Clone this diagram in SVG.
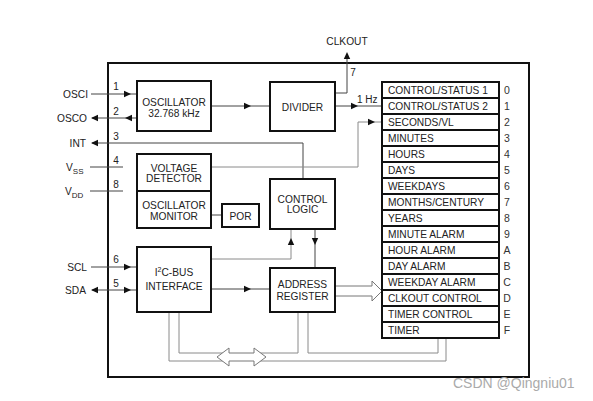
<svg xmlns="http://www.w3.org/2000/svg" width="593" height="401" viewBox="0 0 593 401">
<style>
text{font-family:"Liberation Sans",Arial,sans-serif;font-size:10.2px;fill:#222}
.c{text-anchor:middle}
.e{text-anchor:end}
.box{fill:#fff;stroke:#111;stroke-width:2}
.w{fill:none;stroke:#444;stroke-width:1}
.g{fill:none;stroke:#8a8a8a;stroke-width:1}
.hol{fill:#fff;stroke:#777;stroke-width:1}
.pin{font-size:10px}
.idx{font-size:10.5px;text-anchor:middle;fill:#333}
</style>
<defs>
<path id="ah" d="M0,0 L-7,-3.2 L-7,3.2 Z" fill="#111"/>
</defs>
<rect width="593" height="401" fill="#fff"/>
<rect id="frame" x="108" y="63" width="421" height="314" fill="none" stroke="#111" stroke-width="2"/>

<g id="connectors">
<path class="w" d="M91,94 H137"/>
<use href="#ah" transform="translate(131,94)"/>
<path class="w" d="M137,118 H92"/>
<use href="#ah" transform="translate(91,118) rotate(180)"/>
<use href="#ah" transform="translate(125,118) rotate(180)"/>
<path class="w" d="M303,179 V143 H92"/>
<use href="#ah" transform="translate(91,143) rotate(180)"/>
<path class="w" d="M90,167 H123"/>
<path class="w" d="M90,191 H123"/>
<path class="w" d="M211,106 H270"/>
<use href="#ah" transform="translate(251,106)"/>
<path class="w" d="M335,106 H382"/>
<use href="#ah" transform="translate(358,106)"/>
<path class="w" d="M335,93 H347 V54"/>
<use href="#ah" transform="translate(347,52) rotate(-90)"/>
<path class="g" d="M211,167 H358 V122 H382"/>
<use href="#ah" transform="translate(375,122)"/>
<path class="w" d="M211,215 H222"/>
<path class="g" d="M211,259 H291 V229"/>
<use href="#ah" transform="translate(291,238) rotate(-90)"/>
<path class="w" d="M315,229 V268"/>
<use href="#ah" transform="translate(315,245) rotate(90)"/>
<path class="w" d="M91,267 H137"/>
<use href="#ah" transform="translate(131,267)"/>
<path class="w" d="M92,290 H137"/>
<use href="#ah" transform="translate(91,290) rotate(180)"/>
<use href="#ah" transform="translate(131,290)"/>
<path class="w" d="M211,289 H270"/>
<use href="#ah" transform="translate(251,289)"/>
<path class="hol" d="M335,286 H372 V281 L382,291 L372,301 V296 H335"/>
<path class="g" d="M169,312 V361 H229"/>
<path class="g" d="M179,312 V353 H229"/>
<path class="g" d="M254,353 H298 V312"/>
<path class="g" d="M308,312 V353 H438 V338"/>
<path class="g" d="M254,361 H446 V338"/>
<path class="hol" d="M217,357 L229,348 V353 H254 V348 L266,357 L254,366 V361 H229 V366 Z"/>
</g>

<g id="pins">
<text class="e" x="88" y="97.5">OSCI</text>
<text class="e" x="87" y="121.5">OSCO</text>
<text class="e" x="86" y="146.5">INT</text>
<text x="66" y="171">V<tspan font-size="8" dy="2.5">SS</tspan></text>
<text x="65" y="195">V<tspan font-size="8" dy="2.5">DD</tspan></text>
<text class="e" x="87" y="270.5">SCL</text>
<text class="e" x="86" y="294">SDA</text>
<text class="pin c" x="116" y="90">1</text>
<text class="pin c" x="116" y="115">2</text>
<text class="pin c" x="116" y="140">3</text>
<text class="pin c" x="116" y="164">4</text>
<text class="pin c" x="116" y="188">8</text>
<text class="pin c" x="116" y="263">6</text>
<text class="pin c" x="116" y="287">5</text>
<text class="c" x="347" y="45">CLKOUT</text>
<text class="pin c" x="353" y="76">7</text>
<text class="pin" x="357" y="103">1 Hz</text>
</g>

<g id="oscillator">
<rect class="box" x="137" y="81" width="74" height="50"/>
<text class="c" x="174" y="105.5">OSCILLATOR</text>
<text class="c" x="174" y="116.5" font-size="9.2">32.768 kHz</text>
</g>
<g id="divider">
<rect class="box" x="270" y="82" width="65" height="49"/>
<text class="c" x="302.5" y="110.5">DIVIDER</text>
</g>
<g id="voltage-detector">
<rect class="box" x="137" y="154" width="74" height="37"/>
<text class="c" x="174" y="171.5">VOLTAGE</text>
<text class="c" x="174" y="182">DETECTOR</text>
</g>
<g id="oscillator-monitor">
<rect class="box" x="137" y="191" width="74" height="37"/>
<text class="c" x="174" y="208.5">OSCILLATOR</text>
<text class="c" x="174" y="219.5">MONITOR</text>
</g>
<g id="por">
<rect class="box" x="222" y="204" width="37" height="23"/>
<text class="c" x="240.5" y="219.5">POR</text>
</g>
<g id="control-logic">
<rect class="box" x="270" y="179" width="65" height="50"/>
<text class="c" x="302.5" y="202.5">CONTROL</text>
<text class="c" x="302.5" y="213">LOGIC</text>
</g>
<g id="i2c-bus">
<rect class="box" x="137" y="247" width="74" height="65"/>
<text class="c" x="174" y="275.5">I<tspan font-size="7" dy="-3.5">2</tspan><tspan dy="3.5">C-BUS</tspan></text>
<text class="c" x="174" y="289.5">INTERFACE</text>
</g>
<g id="address-register">
<rect class="box" x="270" y="268" width="65" height="44"/>
<text class="c" x="302.5" y="287.5">ADDRESS</text>
<text class="c" x="302.5" y="299.5">REGISTER</text>
</g>

<g id="registers">
<rect class="box" x="382" y="82" width="117" height="256"/>
<path fill="none" stroke="#111" stroke-width="2" d="M382,98H499M382,114H499M382,130H499M382,146H499M382,162H499M382,178H499M382,194H499M382,210H499M382,226H499M382,242H499M382,258H499M382,274H499M382,290H499M382,306H499M382,322H499"/>
<text x="388" y="93.5">CONTROL/STATUS 1</text>
<text x="388" y="109.5">CONTROL/STATUS 2</text>
<text x="388" y="125.5">SECONDS/VL</text>
<text x="388" y="141.5">MINUTES</text>
<text x="388" y="157.5">HOURS</text>
<text x="388" y="173.5">DAYS</text>
<text x="388" y="189.5">WEEKDAYS</text>
<text x="388" y="205.5">MONTHS/CENTURY</text>
<text x="388" y="221.5">YEARS</text>
<text x="388" y="237.5">MINUTE ALARM</text>
<text x="388" y="253.5">HOUR ALARM</text>
<text x="388" y="269.5">DAY ALARM</text>
<text x="388" y="285.5">WEEKDAY ALARM</text>
<text x="388" y="301.5">CLKOUT CONTROL</text>
<text x="388" y="317.5">TIMER CONTROL</text>
<text x="388" y="333.5">TIMER</text>
<text class="idx" x="507" y="94">0</text>
<text class="idx" x="507" y="110">1</text>
<text class="idx" x="507" y="126">2</text>
<text class="idx" x="507" y="142">3</text>
<text class="idx" x="507" y="158">4</text>
<text class="idx" x="507" y="174">5</text>
<text class="idx" x="507" y="190">6</text>
<text class="idx" x="507" y="206">7</text>
<text class="idx" x="507" y="222">8</text>
<text class="idx" x="507" y="238">9</text>
<text class="idx" x="507" y="254">A</text>
<text class="idx" x="507" y="270">B</text>
<text class="idx" x="507" y="286">C</text>
<text class="idx" x="507" y="302">D</text>
<text class="idx" x="507" y="318">E</text>
<text class="idx" x="507" y="334">F</text>
</g>
<text x="453" y="388" font-size="14" fill="#aaa" style="fill:#aaa;font-size:14px">CSDN @Qingniu01</text>
</svg>
